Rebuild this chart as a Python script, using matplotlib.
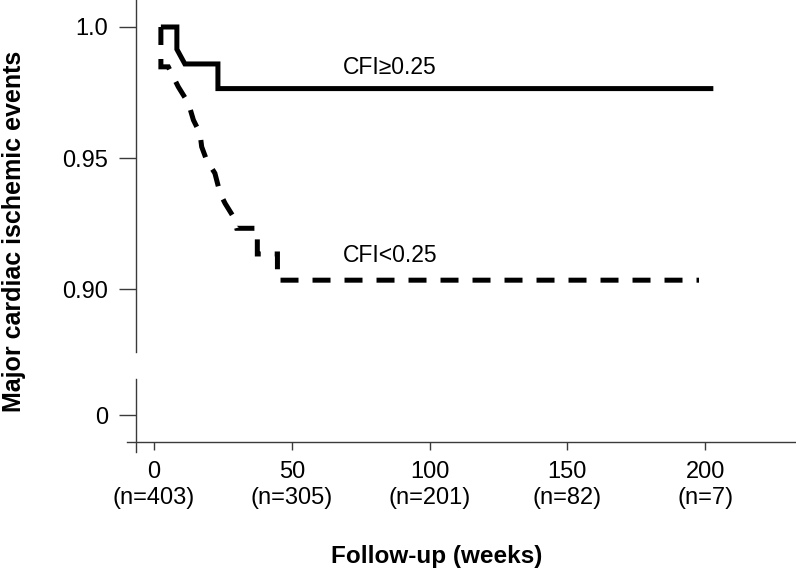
import matplotlib
matplotlib.use("Agg")
import matplotlib.pyplot as plt

plt.rcParams['font.family'] = ['Liberation Sans', 'DejaVu Sans']

# Kaplan-Meier style curves (weeks, event-free fraction)
hi_weeks = [2.5, 8.3, 8.3, 11.2, 23.2, 23.2, 203.0]
hi_surv = [1.0, 1.0, 0.9915, 0.9859, 0.9859, 0.9765, 0.9765]

lo_weeks = [2.5, 2.5, 5.2, 8.8, 12.5, 14.3, 16.7, 17.3, 19.1, 22.1, 24.0,
            25.8, 28.8, 30.0, 37.5, 37.5, 44.8, 44.8, 197.8]
lo_surv = [1.0, 0.9848, 0.9848, 0.9772, 0.9709, 0.9645, 0.9594, 0.9543,
           0.9492, 0.9442, 0.9365, 0.9327, 0.9276, 0.9232, 0.9232, 0.9134,
           0.9134, 0.9034, 0.9034]

x_ticks = [0, 50, 100, 150, 200]
at_risk = [403, 305, 201, 82, 7]
y_ticks = [0.90, 0.95, 1.0]
y_ticklabels = ["0.90", "0.95", "1.0"]

W, H = 796, 576
fig = plt.figure(figsize=(W / 100, H / 100), dpi=100)

left = 127 / W
width = 1 - left
ax = fig.add_axes([left, (H - 352) / H, width, 352 / H])
ax2 = fig.add_axes([left, (H - 452) / H, width, 73 / H])

xlim = (-9.8, 233.0)
spine_x = -6.5
spine_col = "#3a3a3a"

# upper panel
ax.plot(hi_weeks, hi_surv, color="black", lw=3.6, solid_capstyle="butt",
        solid_joinstyle="miter")
ax.plot(lo_weeks, lo_surv, color="black", lw=3.6, linestyle=(0, (3.6, 2.8)),
        dash_capstyle="butt", dash_joinstyle="miter")
ax.set_xlim(*xlim)
ax.set_ylim(0.8760, 1.0103)
ax.set_yticks(y_ticks)
ax.set_yticklabels(y_ticklabels)
ax.set_xticks([])
for s in ["top", "right", "bottom"]:
    ax.spines[s].set_visible(False)
ax.spines["left"].set_position(("data", spine_x))

ax.text(68.6, 0.9847, "CFI\u22650.25", fontsize=16.5, ha="left", va="center")
ax.text(68.6, 0.9130, "CFI<0.25", fontsize=16.5, ha="left", va="center")

# lower panel (broken axis showing 0)
ax2.set_xlim(*xlim)
ax2.set_ylim(-0.01412, 0.01374)
ax2.set_yticks([0])
ax2.set_yticklabels(["0"])
ax2.set_xticks(x_ticks)
ax2.set_xticklabels(["%d\n(n=%d)" % (t, n) for t, n in zip(x_ticks, at_risk)],
                    linespacing=1.25)
for s in ["top", "right"]:
    ax2.spines[s].set_visible(False)
ax2.spines["left"].set_position(("data", spine_x))
ax2.spines["bottom"].set_position(("data", -0.0103))

for a in (ax, ax2):
    for s in ["left", "bottom"]:
        a.spines[s].set_color(spine_col)
        a.spines[s].set_linewidth(1.0)
    a.tick_params(axis="y", length=12, width=1.0, color=spine_col,
                  labelsize=17, pad=8)
    a.tick_params(axis="x", length=6, width=1.0, color=spine_col,
                  labelsize=17, pad=8)
    a.patch.set_visible(False)

fig.text(14 / W, 1 - 231 / H, "Major cardiac ischemic events", rotation=90,
         fontsize=18, fontweight="bold", ha="center", va="center")
fig.text(437 / W, 1 - 556 / H, "Follow-up (weeks)", fontsize=17.5,
         fontweight="bold", ha="center", va="center")

fig.savefig("out.png", dpi=100)
